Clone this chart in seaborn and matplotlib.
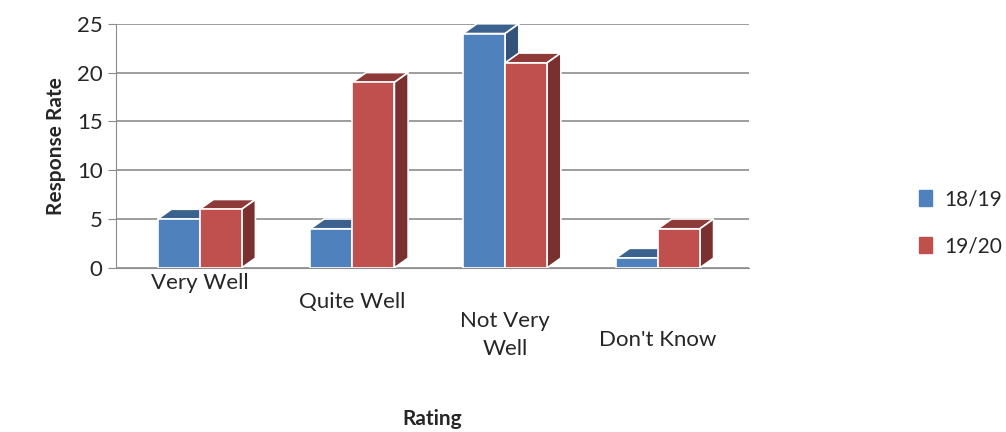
import numpy as np
import pandas as pd
import seaborn as sns
import matplotlib.pyplot as plt
import matplotlib.transforms as mtransforms
from matplotlib.patches import Polygon

# values
ratings = ['Very Well', 'Quite Well', 'Not Very\nWell', "Don't Know"]
series = ['18/19', '19/20']
vals_1819 = [5, 4, 24, 1]
vals_1920 = [6, 19, 21, 4]

colors = ['#4F81BD', '#C0504D']
top_colors = ['#3B628F', '#8E3A38']
side_colors = ['#32537A', '#7A302E']

df = pd.DataFrame({
    'Rating': ratings * 2,
    'Season': [series[0]] * 4 + [series[1]] * 4,
    'Response Rate': vals_1819 + vals_1920,
})

sns.set_style('white')
plt.rcParams['font.family'] = ['Lato', 'DejaVu Sans']

fig = plt.figure(figsize=(10.06, 4.32), dpi=100)
ax = fig.add_axes([0.115, 0.38, 0.63, 0.565])

sns.barplot(data=df, x='Rating', y='Response Rate', hue='Season', order=ratings,
            hue_order=series, palette=colors, saturation=1, width=0.55, gap=0,
            edgecolor='white', linewidth=1.2, ax=ax, legend=False, zorder=3)

# fake depth faces for the 3D look
dx, dy = 0.09, 1.0
for i, container in enumerate(ax.containers):
    for bar in container:
        x0 = bar.get_x()
        w = bar.get_width()
        h = bar.get_height()
        top = Polygon([[x0, h], [x0 + dx, h + dy], [x0 + w + dx, h + dy], [x0 + w, h]],
                      closed=True, facecolor=top_colors[i], edgecolor='white', lw=1.2, zorder=2)
        side = Polygon([[x0 + w, 0], [x0 + w + dx, dy], [x0 + w + dx, h + dy], [x0 + w, h]],
                       closed=True, facecolor=side_colors[i], edgecolor='white', lw=1.2, zorder=2)
        ax.add_patch(top)
        ax.add_patch(side)

ax.set_ylim(0, 25)
ax.set_xlim(-0.55, 3.6)
ax.set_yticks(range(0, 26, 5))
ax.yaxis.grid(True, color='#8C8C8C', lw=1.2, zorder=0)
ax.set_axisbelow(True)
for s in ['top', 'right']:
    ax.spines[s].set_visible(False)
ax.spines['left'].set_color('#8C8C8C')
ax.spines['bottom'].set_color('#8C8C8C')
ax.tick_params(axis='y', labelsize=16, length=6, color='#8C8C8C', left=True)
ax.tick_params(axis='x', labelsize=16, length=0, pad=4)

# the category labels step down like the tilted floor in the original
for k, lab in enumerate(ax.get_xticklabels()):
    lab.set_linespacing(1.5)
    shift = mtransforms.ScaledTranslation(0, -0.19 * k, fig.dpi_scale_trans)
    lab.set_transform(lab.get_transform() + shift)

ax.set_ylabel('Response Rate', fontsize=15, fontweight='bold', labelpad=8)
ax.set_xlabel('Rating', fontsize=15, fontweight='bold')
ax.xaxis.set_label_coords(0.5, -0.58)

handles = [plt.Rectangle((0, 0), 1, 1, color=c) for c in colors]
fig.legend(handles, series, loc='center left', bbox_to_anchor=(0.895, 0.484),
           frameon=False, fontsize=15, handlelength=0.6, handleheight=0.8,
           labelspacing=1.3, handletextpad=0.6)

fig.savefig('out.png', dpi=100)
